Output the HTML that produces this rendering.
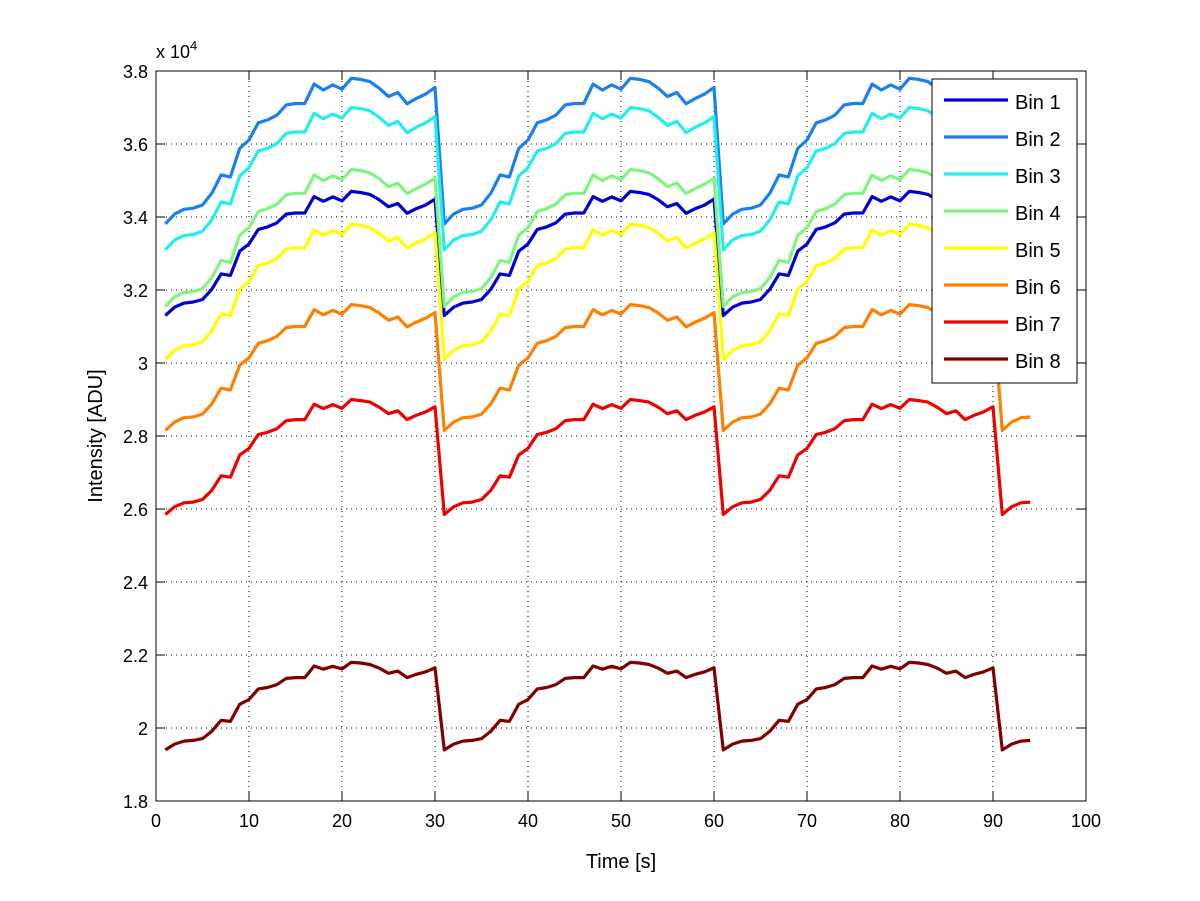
<!DOCTYPE html>
<html><head><meta charset="utf-8"><style>
html,body{margin:0;padding:0;background:#fff}
svg{display:block;font-family:"Liberation Sans",sans-serif}
</style></head><body>
<svg id="chart" width="1200" height="901" viewBox="0 0 1200 901">
<rect x="0" y="0" width="1200" height="901" fill="#fff"/>
<g id="grid"></g>
<g id="series"></g>
<rect x="156" y="71" width="930" height="730" fill="none" stroke="#000" stroke-width="1"/>
<g id="ticks" font-size="18"></g>
<text x="156" y="58" font-size="18">x 10<tspan font-size="13" dy="-8">4</tspan></text>
<text x="621" y="868" font-size="20" text-anchor="middle">Time [s]</text>
<text transform="translate(102,436) rotate(-90)" font-size="20" text-anchor="middle">Intensity [ADU]</text>
<g id="legend"></g>
</svg>
<script>
const xTicks=[0,10,20,30,40,50,60,70,80,90,100];
const yTicks=[1.8,2,2.2,2.4,2.6,2.8,3,3.2,3.4,3.6,3.8];
const yTickLabels=["1.8","2","2.2","2.4","2.6","2.8","3","3.2","3.4","3.6","3.8"];
const binNames=["Bin 1","Bin 2","Bin 3","Bin 4","Bin 5","Bin 6","Bin 7","Bin 8"];
const binColors=["#0000d2","#1a80f0","#22eeee","#7ff57f","#ffff00","#ff8000","#ee0000","#800000"];
const nPoints=94;
const cycleLen=30;
const bin1=[3.130,3.153,3.164,3.167,3.174,3.202,3.244,3.240,3.306,3.326,3.366,3.373,3.384,3.408,3.411,3.411,3.456,3.443,3.455,3.444,3.470,3.467,3.462,3.447,3.428,3.437,3.410,3.423,3.433,3.449];
const bin2=[3.381,3.408,3.421,3.424,3.433,3.465,3.515,3.510,3.588,3.611,3.658,3.666,3.679,3.707,3.711,3.711,3.764,3.748,3.762,3.750,3.780,3.777,3.771,3.753,3.730,3.741,3.710,3.725,3.737,3.755];
const bin3=[3.310,3.337,3.349,3.352,3.361,3.392,3.441,3.436,3.512,3.535,3.581,3.588,3.601,3.629,3.633,3.633,3.684,3.669,3.682,3.671,3.700,3.697,3.691,3.673,3.651,3.662,3.631,3.646,3.658,3.675];
const bin4=[3.155,3.181,3.193,3.196,3.204,3.234,3.281,3.276,3.350,3.371,3.415,3.423,3.435,3.461,3.465,3.465,3.515,3.500,3.513,3.502,3.530,3.527,3.521,3.505,3.483,3.493,3.464,3.478,3.490,3.506];
const bin5=[3.010,3.035,3.047,3.050,3.058,3.088,3.134,3.130,3.202,3.223,3.267,3.274,3.286,3.312,3.316,3.316,3.365,3.350,3.363,3.352,3.380,3.377,3.371,3.355,3.334,3.344,3.315,3.329,3.340,3.357];
const bin6=[2.815,2.838,2.850,2.852,2.860,2.888,2.931,2.926,2.994,3.014,3.054,3.061,3.073,3.097,3.100,3.100,3.146,3.132,3.144,3.134,3.160,3.157,3.152,3.137,3.117,3.126,3.099,3.112,3.123,3.138];
const bin7=[2.585,2.606,2.617,2.619,2.626,2.651,2.691,2.687,2.748,2.766,2.804,2.810,2.820,2.842,2.845,2.845,2.887,2.875,2.886,2.876,2.900,2.897,2.893,2.879,2.861,2.869,2.845,2.857,2.866,2.880];
const bin8=[1.940,1.956,1.964,1.966,1.971,1.991,2.021,2.018,2.065,2.078,2.107,2.111,2.119,2.136,2.138,2.138,2.170,2.161,2.169,2.162,2.180,2.178,2.174,2.164,2.150,2.156,2.138,2.147,2.154,2.165];
const bins=[bin1,bin2,bin3,bin4,bin5,bin6,bin7,bin8];

const NS="http://www.w3.org/2000/svg";
const X0=156,X1=1086,Y0=801,Y1=71;
const xs=v=>X0+(v-0)/(100-0)*(X1-X0);
const ys=v=>Y0-(v-1.8)/(3.8-1.8)*(Y0-Y1);
function mk(tag,attrs,parent){const e=document.createElementNS(NS,tag);for(const k in attrs)e.setAttribute(k,attrs[k]);parent.appendChild(e);return e;}
const grid=document.getElementById('grid'),ticks=document.getElementById('ticks'),series=document.getElementById('series'),legend=document.getElementById('legend');
xTicks.forEach((t,i)=>{
  const x=xs(t);
  if(i>0&&i<xTicks.length-1){const g=mk('line',{x1:x,x2:x,y1:Y1,y2:Y0,stroke:'#000','stroke-width':1,'stroke-dasharray':'1 4'},grid);
  
  }
  const a=mk('line',{x1:x,x2:x,y1:Y0,y2:Y0-9,stroke:'#000'},ticks);
  
  
  const b=mk('line',{x1:x,x2:x,y1:Y1,y2:Y1+9,stroke:'#000'},ticks);
  
  
  const l=mk('text',{x:x,y:Y0+26,'text-anchor':'middle'},ticks);l.textContent=String(t);
  
  
});
yTicks.forEach((t,i)=>{
  const y=ys(t);
  if(i>0&&i<yTicks.length-1){const g=mk('line',{x1:X0,x2:X1,y1:y,y2:y,stroke:'#000','stroke-width':1,'stroke-dasharray':'1 4'},grid);
  
  }
  const a=mk('line',{x1:X0,x2:X0+9,y1:y,y2:y,stroke:'#000'},ticks);
  
  
  const b=mk('line',{x1:X1,x2:X1-9,y1:y,y2:y,stroke:'#000'},ticks);
  
  
  const l=mk('text',{x:X0-8,y:y+7,'text-anchor':'end'},ticks);l.textContent=yTickLabels[i];
  
  
});
bins.forEach((arr,k)=>{
  const pts=[];
  for(let t=1;t<=nPoints;t++){pts.push(xs(t).toFixed(1)+','+ys(arr[(t-1)%cycleLen]).toFixed(1));}
  const p=mk('polyline',{points:pts.join(' '),fill:'none',stroke:binColors[k],'stroke-width':3.2,'stroke-linejoin':'round'},series);
  
  
});
const box=mk('rect',{x:932,y:79,width:145,height:304,fill:'#fff',stroke:'#000','stroke-width':1},legend);


binNames.forEach((n,k)=>{
  const y=100+k*37;
  const g=mk('g',{},legend);
  
  
  mk('line',{x1:944,x2:1008,y1:y,y2:y,stroke:binColors[k],'stroke-width':3.2},g);
  const t=mk('text',{x:1015,y:y+9,'font-size':20},g);t.textContent=n;
});
</script>
</body></html>
